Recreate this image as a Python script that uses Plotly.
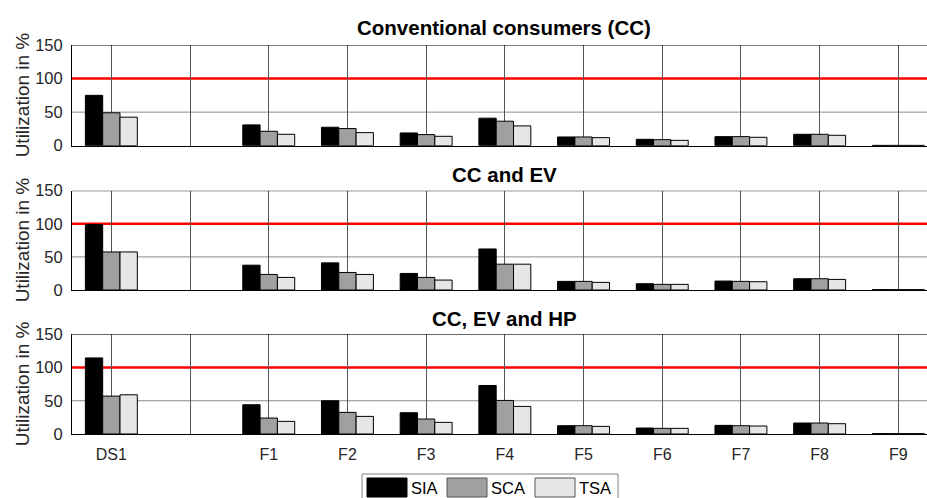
import plotly.graph_objects as go

W, H = 927, 498

categories = ["DS1", "", "F1", "F2", "F3", "F4", "F5", "F6", "F7", "F8", "F9"]
series_names = ["SIA", "SCA", "TSA"]
panel_titles = ["Conventional consumers (CC)", "CC and EV", "CC, EV and HP"]

# values per panel: [SIA, SCA, TSA]
cc_sia = [75, None, 31, 27.5, 19, 41, 13, 9.5, 13.5, 17, 0.5]
cc_sca = [49, None, 21.5, 25.5, 16.5, 36.5, 13, 9, 13.5, 17, 0.5]
cc_tsa = [42.5, None, 17, 19.5, 14, 29.5, 12, 8, 12.5, 15.5, 0.5]

ev_sia = [99, None, 37.5, 41, 25, 62, 13, 9.5, 13.5, 17, 0.5]
ev_sca = [57.5, None, 23.5, 26.5, 19, 39, 13, 8.5, 13, 17, 0.5]
ev_tsa = [57.5, None, 19, 23.5, 15, 39, 11.5, 8.5, 12.5, 16, 0.5]

hp_sia = [114.5, None, 44, 50, 32, 73, 12.5, 9, 13, 16.5, 0.5]
hp_sca = [57, None, 24, 32.5, 22.5, 50.5, 12.5, 8.5, 12.5, 16.5, 0.5]
hp_tsa = [59, None, 19, 26.5, 17.5, 41.5, 11.5, 8.5, 12, 15.5, 0.5]

panels = [[cc_sia, cc_sca, cc_tsa], [ev_sia, ev_sca, ev_tsa], [hp_sia, hp_sca, hp_tsa]]
colors = ["#000000", "#a0a0a0", "#e6e6e6"]
yticks = [0, 50, 100, 150]
limit = 100

FONT = "Liberation Sans, Arial, sans-serif"
xpos = list(range(len(categories)))

# panel vertical placement in pixels (top, bottom) and title centres
panel_px = [(45, 145.7), (190.7, 290), (334.3, 434)]
title_y_px = [27, 174, 318]
x_left_px = 72
unit_px = 78.7
xmax = (W - x_left_px) / unit_px - 0.5

def px_x(p):
    return p / W

def px_y(p):
    return 1 - p / H

fig = go.Figure()
shapes = []
annotations = []
for i, (vals, (top, bot)) in enumerate(zip(panels, panel_px)):
    sfx = "" if i == 0 else str(i + 1)
    for name, v, c in zip(series_names, vals, colors):
        fig.add_trace(go.Bar(
            x=xpos, y=v, name=name, marker=dict(color=c, line=dict(color="#000000", width=1)),
            xaxis="x" + sfx, yaxis="y" + sfx, showlegend=False,
        ))
    fig.layout["xaxis" + sfx] = dict(
        domain=[px_x(x_left_px), 1], range=[-0.5, xmax], anchor="y" + sfx,
        tickvals=xpos, ticktext=categories, showticklabels=(i == 2),
        showgrid=True, gridcolor="#555555", gridwidth=1, showline=True, linecolor="#000000",
        linewidth=1, ticks="", zeroline=False, automargin=False,
        tickfont=dict(family=FONT, size=16, color="#262626"), ticklabelstandoff=6,
    )
    fig.layout["yaxis" + sfx] = dict(
        domain=[px_y(bot), px_y(top)], range=[0, 150], anchor="x" + sfx,
        tickvals=yticks, showgrid=False,
        showline=True, linecolor="#000000", linewidth=1, ticks="", zeroline=False,
        automargin=False, tickfont=dict(family=FONT, size=16.5, color="#262626"),
        ticklabelstandoff=5,
    )
    # horizontal grid lines (inner ticks other than the limit line)
    for yv in yticks[1:-1]:
        if yv != limit:
            shapes.append(dict(type="line", xref="x" + sfx + " domain", yref="y" + sfx,
                               x0=0, x1=1, y0=yv, y1=yv, line=dict(color="#8a8a8a", width=1),
                               layer="below"))
    shapes.append(dict(type="line", xref="x" + sfx + " domain", yref="y" + sfx,
                       x0=0, x1=1, y0=limit, y1=limit, line=dict(color="#ff0000", width=2.5),
                       layer="below"))
    shapes.append(dict(type="line", xref="x" + sfx + " domain", yref="y" + sfx,
                       x0=0, x1=1, y0=yticks[-1], y1=yticks[-1], line=dict(color="#000000", width=1)))
    annotations.append(dict(text="<b>" + panel_titles[i] + "</b>", xref="paper", yref="paper",
                            x=px_x(504), y=px_y(title_y_px[i]), xanchor="center", yanchor="middle",
                            showarrow=False, font=dict(family=FONT, size=20.5, color="#000000")))
    annotations.append(dict(text="Utilization in %", xref="paper", yref="paper",
                            x=px_x(22), y=px_y((top + bot) / 2), xanchor="center",
                            yanchor="middle", textangle=-90, showarrow=False,
                            font=dict(family=FONT, size=19, color="#262626")))

# custom legend
shapes.append(dict(type="rect", xref="paper", yref="paper", x0=px_x(362), x1=px_x(618),
                   y0=px_y(505), y1=px_y(474), line=dict(color="#808080", width=1),
                   fillcolor="#ffffff"))
leg_x = [367, 447, 535]
for name, c, lx in zip(series_names, colors, leg_x):
    shapes.append(dict(type="rect", xref="paper", yref="paper", x0=px_x(lx), x1=px_x(lx + 40),
                       y0=px_y(497), y1=px_y(478), fillcolor=c,
                       line=dict(color="#555555" if c != "#000000" else "#000000", width=1)))
    annotations.append(dict(text=name, xref="paper", yref="paper", x=px_x(lx + 42),
                            y=px_y(488), xanchor="left", yanchor="middle", showarrow=False,
                            font=dict(family=FONT, size=16.5, color="#000000")))

fig.update_layout(
    width=W, height=H, margin=dict(l=0, r=0, t=0, b=0),
    paper_bgcolor="#ffffff", plot_bgcolor="#ffffff", template="none",
    barmode="group", bargap=0.34, bargroupgap=0,
    shapes=shapes, annotations=annotations, showlegend=False,
)

fig.write_html("out.html")
